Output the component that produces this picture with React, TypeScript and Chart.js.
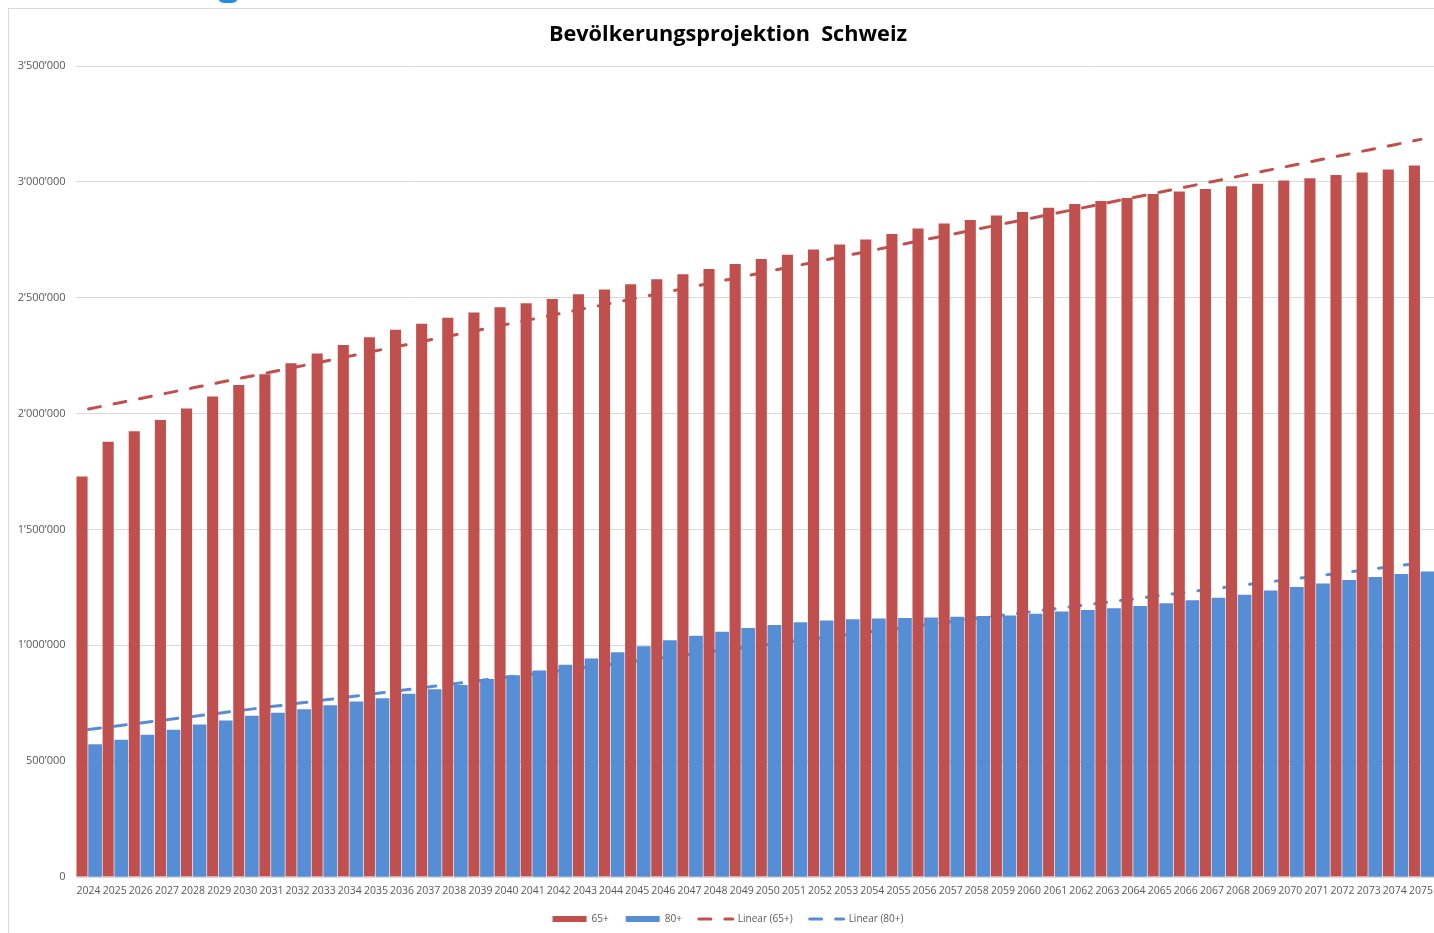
import React, { useEffect, useRef } from "react";
import { Chart, registerables } from "chart.js";

Chart.register(...registerables);

const years = [
  "2024", "2025", "2026", "2027", "2028", "2029", "2030", "2031", "2032", "2033",
  "2034", "2035", "2036", "2037", "2038", "2039", "2040", "2041", "2042", "2043",
  "2044", "2045", "2046", "2047", "2048", "2049", "2050", "2051", "2052", "2053",
  "2054", "2055", "2056", "2057", "2058", "2059", "2060", "2061", "2062", "2063",
  "2064", "2065", "2066", "2067", "2068", "2069", "2070", "2071", "2072", "2073",
  "2074", "2075",
];

const pop65 = [
  1728000, 1878000, 1924000, 1972000, 2022000, 2074000, 2123000, 2170000, 2217000, 2259000,
  2296000, 2329000, 2362000, 2388000, 2414000, 2436000, 2459000, 2476000, 2495000, 2515000,
  2536000, 2558000, 2580000, 2601000, 2624000, 2646000, 2667000, 2686000, 2708000, 2730000,
  2751000, 2775000, 2799000, 2820000, 2836000, 2855000, 2870000, 2888000, 2905000, 2918000,
  2931000, 2948000, 2959000, 2969000, 2981000, 2992000, 3006000, 3016000, 3030000, 3041000,
  3054000, 3071000,
];

const pop80 = [
  572000, 591000, 612000, 634000, 657000, 674000, 694000, 707000, 723000, 740000,
  756000, 770000, 789000, 809000, 827000, 853000, 869000, 890000, 915000, 942000,
  969000, 994000, 1020000, 1040000, 1057000, 1073000, 1086000, 1098000, 1106000, 1111000,
  1114000, 1116000, 1119000, 1122000, 1125000, 1127000, 1135000, 1144000, 1151000, 1159000,
  1168000, 1180000, 1193000, 1204000, 1217000, 1235000, 1250000, 1265000, 1280000, 1293000,
  1306000, 1317000,
];

const yMin = 0;
const yMax = 3500000;
const yStep = 500000;

const titleText = "Bevölkerungsprojektion  Schweiz";
const seriesNames = ["65+", "80+", "Linear (65+)", "Linear (80+)"];

const RED = "#C0504D";
const BLUE = "#558ED5";
const GRID = "#D9D9D9";
const TEXT = "#595959";
const FONT = "'Open Sans', 'DejaVu Sans', sans-serif";
const DASH = [12, 14];

// least-squares linear trend (as Excel's "Linear" trendline)
function linearTrend(vals: number[]): number[] {
  const n = vals.length;
  let sx = 0, sy = 0, sxx = 0, sxy = 0;
  vals.forEach((v, i) => {
    const x = i + 1;
    sx += x; sy += v; sxx += x * x; sxy += x * v;
  });
  const b = (n * sxy - sx * sy) / (n * sxx - sx * sx);
  const a = (sy - b * sx) / n;
  return vals.map((_, i) => a + b * (i + 1));
}

function fmt(v: number): string {
  return String(Math.round(v)).replace(/\B(?=(\d{3})+(?!\d))/g, "\u2019");
}

export default function App() {
  const ref = useRef<HTMLCanvasElement>(null);

  useEffect(() => {
    if (!ref.current) return;
    const chart = new Chart(ref.current, {
      type: "bar",
      data: {
        labels: years,
        datasets: [
          {
            type: "bar",
            label: seriesNames[0],
            data: pop65,
            backgroundColor: RED,
            borderWidth: 0,
            categoryPercentage: 1.0,
            barPercentage: 0.85,
            order: 1,
          } as any,
          {
            type: "bar",
            label: seriesNames[1],
            data: pop80,
            backgroundColor: BLUE,
            borderWidth: 0,
            categoryPercentage: 1.0,
            barPercentage: 1.0,
            order: 1,
          } as any,
          {
            type: "line",
            label: seriesNames[2],
            data: linearTrend(pop65),
            borderColor: RED,
            backgroundColor: RED,
            borderWidth: 3,
            borderDash: DASH,
            borderCapStyle: "round",
            pointRadius: 0,
            tension: 0,
            fill: false,
            order: 2,
          } as any,
          {
            type: "line",
            label: seriesNames[3],
            data: linearTrend(pop80),
            borderColor: BLUE,
            backgroundColor: BLUE,
            borderWidth: 3,
            borderDash: DASH,
            borderCapStyle: "round",
            pointRadius: 0,
            tension: 0,
            fill: false,
            order: 2,
          } as any,
        ],
      },
      options: {
        responsive: false,
        animation: false,
        events: [],
        layout: { padding: { left: 0, right: 2, top: 0, bottom: 4 } },
        scales: {
          x: {
            offset: true,
            grid: { display: false, drawTicks: false },
            border: { display: false },
            ticks: {
              autoSkip: false,
              maxRotation: 0,
              minRotation: 0,
              padding: 8,
              color: TEXT,
              font: { family: FONT, size: 10.5 },
            },
            afterFit: (s: any) => { s.height = 20; },
          },
          y: {
            min: yMin,
            max: yMax,
            grid: { color: GRID, lineWidth: 1, drawTicks: false },
            border: { display: false },
            ticks: {
              stepSize: yStep,
              padding: 10,
              color: TEXT,
              font: { family: FONT, size: 11 },
              callback: (v: any) => fmt(Number(v)),
            },
            afterFit: (s: any) => { s.width = 66.5; },
          },
          yRight: {
            position: "right",
            display: true,
            grid: { display: false, drawTicks: false },
            border: { display: false },
            ticks: { display: false },
            afterFit: (s: any) => { s.width = 13; },
          },
        } as any,
        plugins: {
          tooltip: { enabled: false },
          title: {
            display: true,
            text: titleText,
            color: "#000000",
            font: { family: FONT, size: 21.7, weight: "bold" },
            padding: { top: 13, bottom: 18 },
          },
          legend: {
            display: true,
            position: "bottom",
            labels: {
              usePointStyle: true,
              pointStyleWidth: 34,
              boxWidth: 34,
              boxHeight: 6,
              padding: 17,
              color: TEXT,
              font: { family: FONT, size: 10 },
              generateLabels: (c: any) => {
                const items = (Chart as any).defaults.plugins.legend.labels.generateLabels(c);
                return items.map((it: any) => {
                  const ds: any = c.data.datasets[it.datasetIndex];
                  if (ds.type === "line") {
                    it.pointStyle = "line";
                    it.strokeStyle = ds.borderColor;
                    it.lineWidth = 3;
                    it.lineDash = ds.borderDash;
                    it.lineCap = ds.borderCapStyle;
                  } else {
                    it.pointStyle = "rect";
                    it.lineWidth = 0;
                  }
                  return it;
                });
              },
            },
          },
        },
      } as any,
    });
    return () => chart.destroy();
  }, []);

  return (
    <div
      style={{
        position: "fixed",
        left: 0,
        top: 0,
        width: 1434,
        height: 933,
        overflow: "hidden",
        background: "#ffffff",
      }}
    >
      <div
        style={{
          position: "absolute",
          left: 218,
          top: -3,
          width: 20,
          height: 6,
          borderRadius: "0 0 10px 10px",
          background: "#1E8FE1",
        }}
      />
      <div
        style={{
          position: "absolute",
          left: 8,
          top: 8,
          width: 1441,
          height: 936,
          borderLeft: "1px solid #D9D9D9",
          borderTop: "1px solid #D9D9D9",
          background: "#ffffff",
        }}
      >
        <canvas ref={ref} width={1440} height={929} style={{ display: "block", width: 1440, height: 929 }} />
      </div>
    </div>
  );
}
